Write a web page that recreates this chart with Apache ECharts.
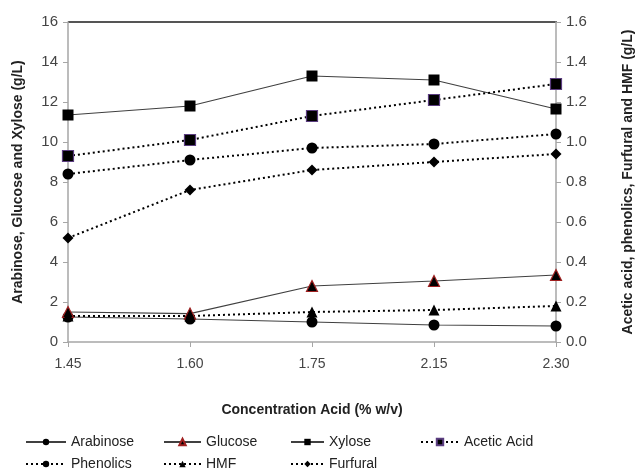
<!DOCTYPE html>
<html>
<head>
<meta charset="utf-8">
<script src="https://cdn.jsdelivr.net/npm/echarts@6/dist/echarts.min.js"></script>
<style>
  html, body { margin: 0; padding: 0; background: #fff; }
  #chart { width: 643px; height: 471px; }
</style>
</head>
<body>
<div id="chart"></div>
<script>
// concentration acid (% w/v)
var categories = ["1.45", "1.60", "1.75", "2.15", "2.30"];

// left axis (g/L)
var arabinose = [1.25, 1.15, 1.0, 0.85, 0.8];
var glucose = [1.5, 1.42, 2.8, 3.05, 3.35];
var xylose = [11.35, 11.8, 13.3, 13.1, 11.65];

// right axis (g/L)
var aceticAcid = [0.93, 1.01, 1.13, 1.21, 1.29];
var phenolics = [0.84, 0.91, 0.97, 0.99, 1.04];
var hmf = [0.13, 0.13, 0.15, 0.16, 0.18];
var furfural = [0.52, 0.76, 0.86, 0.90, 0.94];

var FONT = "Liberation Sans, Arial, sans-serif";
var AXIS_GRAY = "#a6a6a6";

var chart = echarts.init(document.getElementById("chart"));

function makeSeries(name, data, yIdx, symbol, size, dotted, fill, border) {
  return {
    name: name,
    type: "line",
    yAxisIndex: yIdx,
    data: data,
    symbol: symbol,
    symbolSize: size,
    lineStyle: {
      color: dotted ? "#000" : "#404040",
      width: dotted ? 2 : 1.2,
      type: dotted ? [2, 3] : "solid"
    },
    itemStyle: {
      color: fill,
      borderColor: border || fill,
      borderWidth: border ? 1.2 : 0
    },
    emphasis: { disabled: true },
    animation: false
  };
}

// legend placement: 4 columns, 2 rows  [left, top, icon width]
var legendPos = [
  [20, 430, 40], [158, 430, 37], [285, 430, 33], [415, 430, 38],
  [20, 452, 40], [158, 452, 37], [285, 452, 33]
];
var names = ["Arabinose", "Glucose", "Xylose", "Acetic Acid", "Phenolics", "HMF", "Furfural"];

var option = {
  backgroundColor: "#fff",
  textStyle: { fontFamily: FONT },
  grid: { left: 68, right: 86, top: 22, bottom: 129 },
  legend: names.map(function (n, i) {
    return {
      data: [n],
      left: legendPos[i][0],
      top: legendPos[i][1],
      itemWidth: legendPos[i][2],
      itemHeight: 8,
      itemGap: 4,
      textStyle: { fontFamily: FONT, fontSize: 14, color: "#222" },
      selectedMode: false
    };
  }),
  xAxis: {
    type: "category",
    data: categories,
    boundaryGap: false,
    name: "Concentration Acid (% w/v)",
    nameLocation: "middle",
    nameGap: 61,
    nameTextStyle: { fontFamily: FONT, fontSize: 14, fontWeight: "bold", color: "#222" },
    axisLine: { lineStyle: { color: AXIS_GRAY, width: 1.5 } },
    axisTick: { show: true, length: 5, lineStyle: { color: AXIS_GRAY } },
    axisLabel: { fontFamily: FONT, fontSize: 14, color: "#444", margin: 15 },
    splitLine: { show: false }
  },
  yAxis: [
    {
      type: "value",
      min: 0, max: 16, interval: 2,
      name: "Arabinose, Glucose and Xylose (g/L)",
      nameLocation: "middle",
      nameGap: 43,
      nameTextStyle: { fontFamily: FONT, fontSize: 14, fontWeight: "bold", color: "#222" },
      axisLine: { show: true, lineStyle: { color: AXIS_GRAY, width: 1.5 } },
      axisTick: { show: true, length: 5, lineStyle: { color: AXIS_GRAY } },
      axisLabel: { fontFamily: FONT, fontSize: 15, color: "#444", margin: 10 },
      splitLine: { show: false }
    },
    {
      type: "value",
      min: 0, max: 1.6, interval: 0.2,
      name: "Acetic acid, phenolics, Furfural and HMF (g/L)",
      nameLocation: "middle",
      nameGap: 65,
      nameRotate: 90,
      nameTextStyle: { fontFamily: FONT, fontSize: 14, fontWeight: "bold", color: "#222" },
      axisLine: { show: true, lineStyle: { color: AXIS_GRAY, width: 1.5 } },
      axisTick: { show: true, length: 5, lineStyle: { color: AXIS_GRAY } },
      axisLabel: {
        fontFamily: FONT, fontSize: 15, color: "#444", margin: 10,
        formatter: function (v) { return v.toFixed(1); }
      },
      splitLine: { show: false }
    }
  ],
  series: [
    makeSeries("Arabinose", arabinose, 0, "circle", 11, false, "#000"),
    makeSeries("Glucose", glucose, 0, "triangle", 11, false, "#000", "#a02020"),
    makeSeries("Xylose", xylose, 0, "rect", 11, false, "#000"),
    makeSeries("Acetic Acid", aceticAcid, 1, "rect", 11, true, "#000", "#5b3d80"),
    makeSeries("Phenolics", phenolics, 1, "circle", 11, true, "#000"),
    makeSeries("HMF", hmf, 1, "triangle", 11, true, "#000"),
    makeSeries("Furfural", furfural, 1, "diamond", 11, true, "#000")
  ],
  graphic: [
    {
      // dark top border of the plot area
      type: "line",
      shape: { x1: 68, y1: 22, x2: 557, y2: 22 },
      style: { stroke: "#555", lineWidth: 2 },
      silent: true
    }
  ]
};

chart.setOption(option);
</script>
</body>
</html>
